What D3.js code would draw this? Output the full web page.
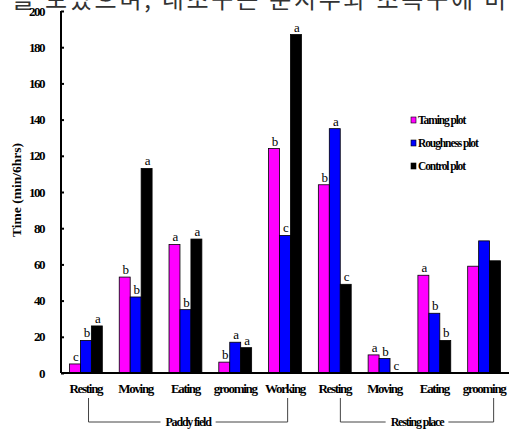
<!DOCTYPE html>
<html>
<head>
<meta charset="utf-8">
<title>Behaviour time by plot</title>
<style>
body { margin: 0; background: #fff; }
.tick-lbl, .cat-lbl, .leg-lbl, .grp-lbl, .ytitle { font-family: "Liberation Serif", "DejaVu Serif", serif; font-weight: bold; }
.sig { font-family: "Liberation Serif", serif; font-size: 13px; }
</style>
</head>
<body>
<div id="chart"></div>

<script src="https://cdn.jsdelivr.net/npm/d3@7"></script>
<script>
// data
const categories = ["Resting", "Moving", "Eating", "grooming", "Working",
                    "Resting", "Moving", "Eating", "grooming"];
const seriesNames = ["Taming plot", "Roughness plot", "Control plot"];
const taming    = [5, 53, 71, 6, 124, 104, 10, 54, 59];
const roughness = [18, 42, 35, 17, 76, 135, 8, 33, 73];
const control   = [26, 113, 74, 14, 187, 49, 0, 18, 62];
const sigTaming    = ["c", "b", "a", "b", "b", "b", "a", "a", ""];
const sigRoughness = ["b", "b", "b", "a", "c", "a", "b", "b", ""];
const sigControl   = ["a", "a", "a", "a", "a", "c", "c", "b", ""];
const yTicks = [0, 20, 40, 60, 80, 100, 120, 140, 160, 180, 200];
const groups = [
  { name: "Paddy field", from: 0, to: 4 },
  { name: "Resting place", from: 5, to: 8 }
];
const headerText = "를 보았으며, 내조구는 분지우와 조목구에 비";

const W = 509, H = 429;
const colors = ["#ff00ff", "#0000ff", "#000000"];
const series = [taming, roughness, control];
const sigs = [sigTaming, sigRoughness, sigControl];

const svg = d3.select("#chart").append("svg")
  .attr("width", W).attr("height", H);

// clipped line of document text at top
svg.append("text")
  .attr("x", 12).attr("y", 8)
  .attr("font-family", "'Noto Sans CJK KR', sans-serif")
  .attr("font-size", 24)
  .attr("fill", "#333")
  .attr("textLength", 494)
  .attr("lengthAdjust", "spacing")
  .text(headerText);

const x0 = d3.scaleBand()
  .domain(d3.range(categories.length))
  .range([61, 509])
  .paddingInner(0.34)
  .paddingOuter(0.17);

const x1 = d3.scaleBand()
  .domain(d3.range(3))
  .range([0, x0.bandwidth()]);

const y = d3.scaleLinear().domain([0, 200]).range([373, 11]);

// bars
const gGroup = svg.selectAll("g.grp")
  .data(categories)
  .join("g")
  .attr("class", "grp")
  .attr("transform", (d, i) => `translate(${x0(i)},0)`);

gGroup.each(function(d, i) {
  const g = d3.select(this);
  series.forEach((s, k) => {
    if (s[i] > 0) {
      g.append("rect")
        .attr("x", x1(k))
        .attr("y", y(s[i]))
        .attr("width", x1.bandwidth())
        .attr("height", y(0) - y(s[i]))
        .attr("fill", colors[k])
        .attr("stroke", "#000")
        .attr("stroke-width", 0.8);
    }
    if (sigs[k][i]) {
      g.append("text")
        .attr("class", "sig")
        .attr("x", x1(k) + x1.bandwidth() / 2 + 1)
        .attr("y", y(s[i]) - 3)
        .attr("text-anchor", "middle")
        .text(sigs[k][i]);
    }
  });
});

// y axis
const yAxis = d3.axisRight(y)
  .tickValues(yTicks)
  .tickSize(3)
  .tickFormat("");
const gy = svg.append("g")
  .attr("transform", "translate(61,0)")
  .call(yAxis);
gy.select(".domain").attr("stroke-width", 2).attr("d", `M0,${y(200)}V${y(0)}`);
gy.selectAll(".tick line").attr("stroke-width", 2);

svg.selectAll("text.tick-lbl")
  .data(yTicks)
  .join("text")
  .attr("class", "tick-lbl")
  .attr("x", 44)
  .attr("y", d => y(d) + 4.5)
  .attr("text-anchor", "end")
  .attr("font-size", 13)
  .attr("letter-spacing", -1.5)
  .text(d => d);

// x axis line
svg.append("line")
  .attr("x1", 61).attr("x2", W)
  .attr("y1", y(0)).attr("y2", y(0))
  .attr("stroke", "#000").attr("stroke-width", 2);

// category labels
svg.selectAll("text.cat-lbl")
  .data(categories)
  .join("text")
  .attr("class", "cat-lbl")
  .attr("x", (d, i) => x0(i) + x0.bandwidth() / 2)
  .attr("y", 393)
  .attr("text-anchor", "middle")
  .attr("font-size", 13)
  .attr("letter-spacing", -1.3)
  .text(d => d);

// y title
svg.append("text")
  .attr("class", "ytitle")
  .attr("transform", "translate(21,190) rotate(-90)")
  .attr("text-anchor", "middle")
  .attr("font-size", 13.5)
  .text("Time (min/6hrs)");

// group brackets
const bracketY = 422;
groups.forEach((gr, gi) => {
  const xa = x0(gr.from) + x0.bandwidth() * (gi === 0 ? 0.58 : 0.67);
  const xb = x0(gr.to) + x0.bandwidth() * (gi === 0 ? 0.58 : 0.79);
  const mid = (xa + xb) / 2;
  const lbl = svg.append("text")
    .attr("class", "grp-lbl")
    .attr("x", mid).attr("y", bracketY + 4)
    .attr("text-anchor", "middle")
    .attr("font-size", 12)
    .attr("letter-spacing", -1.2)
    .text(gr.name);
  const half = lbl.node().getComputedTextLength() / 2 + 5;
  const path = d3.path();
  path.moveTo(xa, 398); path.lineTo(xa, bracketY); path.lineTo(mid - half, bracketY);
  path.moveTo(mid + half, bracketY); path.lineTo(xb, bracketY); path.lineTo(xb, 398);
  svg.append("path")
    .attr("d", path.toString())
    .attr("fill", "none")
    .attr("stroke", "#444")
    .attr("stroke-width", 1);
});

// legend
const leg = svg.selectAll("g.leg")
  .data(seriesNames)
  .join("g")
  .attr("class", "leg")
  .attr("transform", (d, i) => `translate(411,${120 + i * 23})`);
leg.append("rect")
  .attr("x", 0).attr("y", -3)
  .attr("width", 5).attr("height", 6)
  .attr("fill", (d, i) => colors[i])
  .attr("stroke", "#000").attr("stroke-width", 0.6);
leg.append("text")
  .attr("class", "leg-lbl")
  .attr("x", 7).attr("y", 4)
  .attr("font-size", 11.5)
  .attr("letter-spacing", -1.1)
  .text(d => d);
</script>
</body>
</html>
